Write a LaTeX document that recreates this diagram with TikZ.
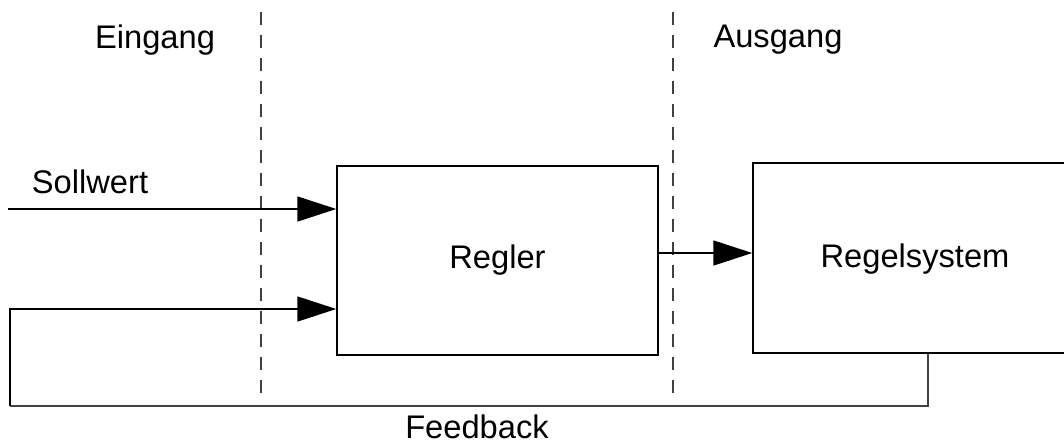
\documentclass[tikz,border=0pt]{standalone}
\usepackage{fontspec}
\setmainfont{Liberation Sans}
\usetikzlibrary{arrows.meta}
\begin{document}
\begin{tikzpicture}[x=0.02cm, y=-0.02cm, line width=0.03cm,
    every node/.style={font=\fontsize{18.6}{22}\selectfont},
    block/.style={draw, rectangle, inner sep=0pt},
    arr/.style={-{Triangle[length=0.78cm, width=0.5cm]}},
    border/.style={black!75, dash pattern=on 0.26cm off 0.2cm}]
    \useasboundingbox (0,0) rectangle (1064,444);

    % Blocks
    \node[block, minimum width=6.42cm, minimum height=3.78cm] (regler) at (497.5,260.5) {Regler};
    \node[block, minimum width=6.6cm, minimum height=3.8cm] (regelsystem) at (918,258) {};
    \node at (915,259) {Regelsystem};

    % Input / output borders
    \draw[border] (261,12) -- (261,396);
    \draw[border] (673,12) -- (673,396);
    \node (eingang) at (155,40) {Eingang};
    \node (ausgang) at (778,40) {Ausgang};

    % Setpoint
    \coordinate (sollstart) at (8,209);
    \draw[arr] (sollstart) -- (sollstart -| regler.west);
    \node (sollwert) at (90,182) {Sollwert};

    % Controller output
    \draw[arr] (regler.east |- 0,253) -- (regelsystem.west |- 0,253);

    % Feedback loop
    \coordinate (fbright) at (928,406);
    \coordinate (fbleft) at (10,406);
    \coordinate (fbin) at (337,309);
    \draw[black!75] (regelsystem.south -| fbright) -- (fbright) -- (fbleft);
    \draw[arr] (fbleft) -- (fbleft |- fbin) -- (fbin -| regler.west);
    \node (feedback) at (477,427) {Feedback};
\end{tikzpicture}
\end{document}
